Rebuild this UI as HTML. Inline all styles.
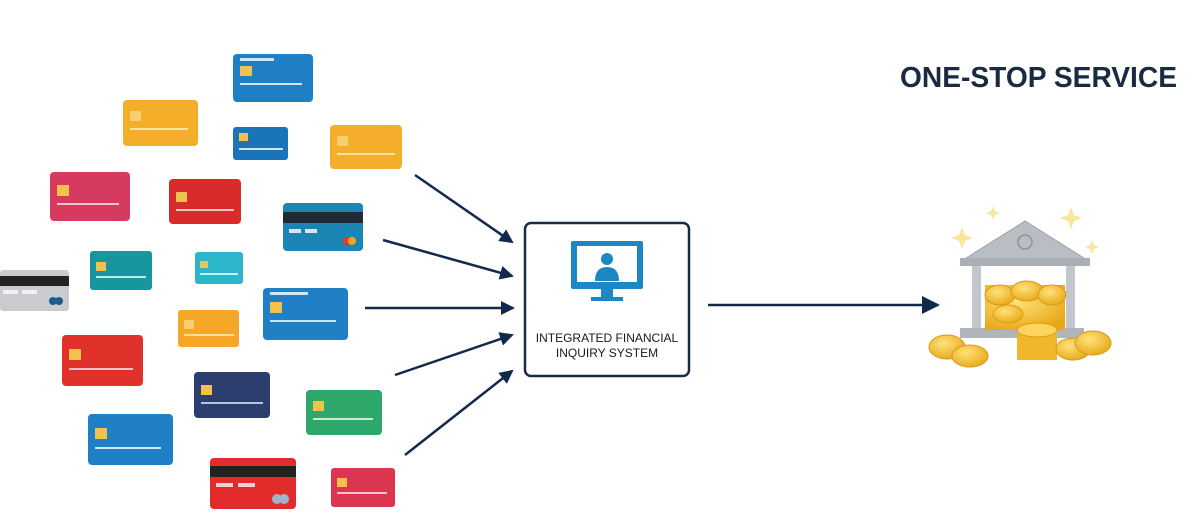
<!DOCTYPE html>
<html><head><meta charset="utf-8"><style>
html,body{margin:0;padding:0;background:#fff;width:1200px;height:519px;overflow:hidden}
</style></head><body>
<svg width="1200" height="519" viewBox="0 0 1200 519" xmlns="http://www.w3.org/2000/svg" font-family="Liberation Sans, sans-serif">
<defs>
<marker id="ah" markerWidth="14" markerHeight="14" refX="12" refY="7" orient="auto" markerUnits="userSpaceOnUse"><path d="M0,0 L14,7 L0,14 z" fill="#13294b"/></marker>
<marker id="ah2" markerWidth="18" markerHeight="18" refX="16" refY="9" orient="auto" markerUnits="userSpaceOnUse"><path d="M0,0 L18,9 L0,18 z" fill="#13294b"/></marker>
<radialGradient id="gold" cx="40%" cy="35%" r="70%"><stop offset="0" stop-color="#ffe27a"/><stop offset="1" stop-color="#e8a818"/></radialGradient>
</defs>
<g>
<rect x="233" y="54" width="80" height="48" rx="4" fill="#1f7fc4"/><rect x="240" y="66" width="12" height="10" fill="#f2c14e"/><rect x="240" y="83" width="62" height="2" fill="#cfe6f7"/><rect x="240" y="58" width="34" height="3" fill="#cfe6f7"/>
<rect x="123" y="100" width="75" height="46" rx="4" fill="#f4ae2a"/><rect x="130" y="111" width="11" height="10" fill="#f8cf6e"/><rect x="130" y="128" width="58" height="2" fill="#fde3a3"/>
<rect x="233" y="127" width="55" height="33" rx="3" fill="#1c74b8"/><rect x="239" y="133" width="9" height="8" fill="#f2c14e"/><rect x="239" y="148" width="44" height="2" fill="#cfe6f7"/>
<rect x="330" y="125" width="72" height="44" rx="4" fill="#f5ae2c"/><rect x="337" y="136" width="11" height="10" fill="#f8cf6e"/><rect x="337" y="153" width="58" height="2" fill="#fde3a3"/>
<rect x="50" y="172" width="80" height="49" rx="4" fill="#d63a5e"/><rect x="57" y="185" width="12" height="11" fill="#f2c14e"/><rect x="57" y="203" width="62" height="2" fill="#f6c2cf"/>
<rect x="169" y="179" width="72" height="45" rx="4" fill="#d92b2b"/><rect x="176" y="192" width="11" height="10" fill="#f2c14e"/><rect x="176" y="209" width="58" height="2" fill="#f6c2c2"/>
<rect x="283" y="203" width="80" height="48" rx="4" fill="#1b86b3"/><rect x="283" y="212" width="80" height="11" fill="#1f2a33"/><rect x="289" y="229" width="12" height="4" fill="#cfe9f5"/><rect x="305" y="229" width="12" height="4" fill="#cfe9f5"/><circle cx="347" cy="241" r="4" fill="#e63b2a"/><circle cx="352" cy="241" r="4" fill="#f4a623"/>
<rect x="90" y="251" width="62" height="39" rx="3" fill="#17969e"/><rect x="96" y="262" width="10" height="9" fill="#f2c14e"/><rect x="96" y="276" width="50" height="2" fill="#bfe8ea"/>
<rect x="195" y="252" width="48" height="32" rx="3" fill="#2bb7c9"/><rect x="200" y="261" width="8" height="7" fill="#f2c14e"/><rect x="200" y="273" width="38" height="2" fill="#c9f0f4"/>
<rect x="0" y="270" width="69" height="41" rx="3" fill="#c9cbce"/><rect x="0" y="276" width="69" height="10" fill="#222"/><rect x="3" y="290" width="15" height="4" fill="#f2f2f2"/><rect x="22" y="290" width="15" height="4" fill="#f2f2f2"/><circle cx="53" cy="301" r="4" fill="#1d5d8c"/><circle cx="59" cy="301" r="4" fill="#1d5d8c"/>
<rect x="263" y="288" width="85" height="52" rx="4" fill="#1f80c6"/><rect x="270" y="302" width="12" height="11" fill="#f2c14e"/><rect x="270" y="320" width="66" height="2" fill="#cfe6f7"/><rect x="270" y="292" width="38" height="3" fill="#cfe6f7"/>
<rect x="178" y="310" width="61" height="37" rx="3" fill="#f5a72a"/><rect x="184" y="320" width="10" height="9" fill="#f8cf6e"/><rect x="184" y="334" width="50" height="2" fill="#fde3a3"/>
<rect x="62" y="335" width="81" height="51" rx="4" fill="#e0312a"/><rect x="69" y="349" width="12" height="11" fill="#f2c14e"/><rect x="69" y="368" width="64" height="2" fill="#f6c2c2"/>
<rect x="194" y="372" width="76" height="46" rx="4" fill="#2c3e6e"/><rect x="201" y="385" width="11" height="10" fill="#f2c14e"/><rect x="201" y="402" width="62" height="2" fill="#b8c2dc"/>
<rect x="306" y="390" width="76" height="45" rx="4" fill="#2ea86a"/><rect x="313" y="401" width="11" height="10" fill="#f2c14e"/><rect x="313" y="418" width="60" height="2" fill="#c6eed8"/>
<rect x="88" y="414" width="85" height="51" rx="4" fill="#1f80c6"/><rect x="95" y="428" width="12" height="11" fill="#f2c14e"/><rect x="95" y="447" width="66" height="2" fill="#cfe6f7"/>
<rect x="210" y="458" width="86" height="51" rx="4" fill="#e22b2b"/><rect x="210" y="466" width="86" height="11" fill="#222"/><rect x="216" y="483" width="17" height="4" fill="#f4d0d0"/><rect x="238" y="483" width="17" height="4" fill="#f4d0d0"/><circle cx="277" cy="499" r="5" fill="#9fb4cc"/><circle cx="284" cy="499" r="5" fill="#9fb4cc"/>
<rect x="331" y="468" width="64" height="39" rx="3" fill="#dc3550"/><rect x="337" y="478" width="10" height="9" fill="#f2c14e"/><rect x="337" y="492" width="50" height="2" fill="#f6c2cf"/>
</g>
<g stroke="#13294b" stroke-width="2.5" fill="none">
<line x1="415" y1="175" x2="512" y2="242" marker-end="url(#ah)"/>
<line x1="383" y1="240" x2="512" y2="276" marker-end="url(#ah)"/>
<line x1="365" y1="308" x2="513" y2="308" marker-end="url(#ah)"/>
<line x1="395" y1="375" x2="512" y2="335" marker-end="url(#ah)"/>
<line x1="405" y1="455" x2="512" y2="371" marker-end="url(#ah)"/>
<line x1="708" y1="305" x2="938" y2="305" marker-end="url(#ah2)"/>
</g>
<rect x="525" y="223" width="164" height="153" rx="6" fill="#fff" stroke="#1a2b45" stroke-width="2.5"/>
<rect x="571" y="241" width="72" height="48" rx="2" fill="#1c87c4"/>
<rect x="577" y="246" width="60" height="36" fill="#fff"/>
<circle cx="607" cy="259" r="6" fill="#1c87c4"/>
<path d="M595,281 q0,-14 12,-14 q12,0 12,14 z" fill="#1c87c4"/>
<rect x="601" y="289" width="12" height="9" fill="#1c87c4"/>
<rect x="591" y="297" width="32" height="4" fill="#1c87c4"/>
<text x="607" y="342" font-size="12" text-anchor="middle" fill="#1a1a1a">INTEGRATED FINANCIAL</text>
<text x="607" y="357" font-size="12" text-anchor="middle" fill="#1a1a1a">INQUIRY SYSTEM</text>
<text x="900" y="87" font-size="29" font-weight="bold" fill="#1a2a40" textLength="277" lengthAdjust="spacingAndGlyphs">ONE-STOP SERVICE</text>
<g>
<path d="M963,260 L1025,221 L1087,260 z" fill="#b9bec5" stroke="#9aa0a8"/>
<circle cx="1025" cy="242" r="7" fill="none" stroke="#8d939b" stroke-width="1.5"/>
<rect x="960" y="258" width="130" height="8" fill="#a9afb6"/>
<rect x="972" y="266" width="9" height="62" fill="#c2c7cd"/>
<rect x="1066" y="266" width="9" height="62" fill="#c2c7cd"/>
<rect x="960" y="328" width="124" height="10" fill="#b0b5bb"/>
<rect x="985" y="285" width="80" height="45" fill="url(#gold)"/>
<ellipse cx="1000" cy="295" rx="15" ry="10" fill="url(#gold)" stroke="#d89a15"/>
<ellipse cx="1027" cy="291" rx="16" ry="10" fill="url(#gold)" stroke="#d89a15"/>
<ellipse cx="1052" cy="295" rx="14" ry="10" fill="url(#gold)" stroke="#d89a15"/>
<ellipse cx="1008" cy="314" rx="15" ry="9" fill="url(#gold)" stroke="#d89a15"/>
<rect x="1017" y="330" width="40" height="30" fill="#f2b62c"/>
<ellipse cx="1037" cy="330" rx="20" ry="7" fill="#ffd45c" stroke="#d89a15"/>
<ellipse cx="947" cy="347" rx="18" ry="12" fill="url(#gold)" stroke="#d89a15"/>
<ellipse cx="970" cy="356" rx="18" ry="11" fill="url(#gold)" stroke="#d89a15"/>
<ellipse cx="1073" cy="349" rx="17" ry="11" fill="url(#gold)" stroke="#d89a15"/>
<ellipse cx="1093" cy="343" rx="18" ry="12" fill="url(#gold)" stroke="#d89a15"/>
<g fill="#f8e79a">
<path d="M962,227 l3,8 l8,3 l-8,3 l-3,8 l-3,-8 l-8,-3 l8,-3 z"/>
<path d="M993,206 l2,5 l5,2 l-5,2 l-2,5 l-2,-5 l-5,-2 l5,-2 z"/>
<path d="M1071,207 l3,8 l8,3 l-8,3 l-3,8 l-3,-8 l-8,-3 l8,-3 z"/>
<path d="M1092,240 l2,5 l5,2 l-5,2 l-2,5 l-2,-5 l-5,-2 l5,-2 z"/>
</g>
</g>
</svg>
</body></html>
